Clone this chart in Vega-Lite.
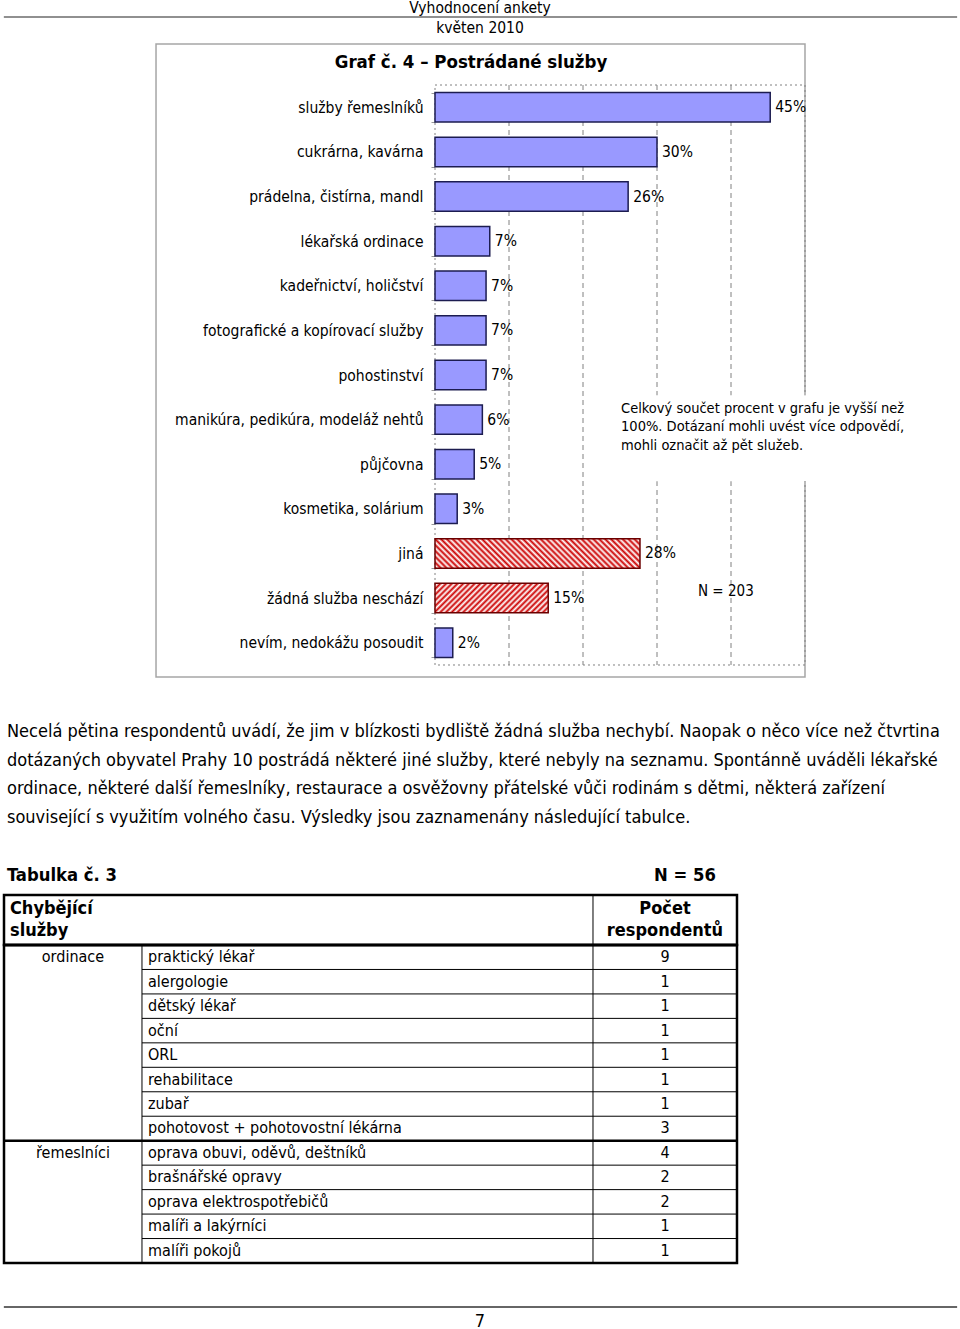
{
"$schema": "https://vega.github.io/schema/vega-lite/v6.json",
"background": "white",
"padding": 0,
"spacing": 0,
"bounds": "flush",
"config": {"view": {"stroke": null}, "font": "DejaVu Sans Condensed", "text": {"color": "#000"}},
"vconcat": [
{
 "width": 960, "height": 44,
 "layer": [
  {"data": {"values": [{"t": "Vyhodnocení ankety"}]},
   "mark": {"type": "text", "align": "center", "baseline": "middle", "fontSize": 15.5},
   "encoding": {"x": {"datum": 0.5, "type": "quantitative", "scale": {"domain": [0, 1], "nice": false}, "axis": null},
                "y": {"datum": 0.19, "type": "quantitative", "scale": {"domain": [0, 1], "nice": false, "reverse": true}, "axis": null},
                "text": {"field": "t"}}},
  {"data": {"values": [{}]},
   "mark": {"type": "rule", "stroke": "#222", "strokeWidth": 1.2},
   "encoding": {"x": {"datum": 0.004, "type": "quantitative", "scale": {"domain": [0, 1], "nice": false}, "axis": null}, "x2": {"datum": 0.997},
                "y": {"datum": 0.386, "type": "quantitative", "scale": {"domain": [0, 1], "nice": false, "reverse": true}, "axis": null}}},
  {"data": {"values": [{"t": "květen 2010"}]},
   "mark": {"type": "text", "align": "center", "baseline": "middle", "fontSize": 15.5},
   "encoding": {"x": {"datum": 0.5, "type": "quantitative", "scale": {"domain": [0, 1], "nice": false}, "axis": null},
                "y": {"datum": 0.636, "type": "quantitative", "scale": {"domain": [0, 1], "nice": false, "reverse": true}, "axis": null},
                "text": {"field": "t"}}}
 ]
},
{
 "width": 960, "height": 633,
 "title": {"text": "Graf č. 4 – Postrádané služby", "fontSize": 18.5, "fontWeight": "bold", "anchor": "middle", "frame": "group", "offset": -34, "dx": -9, "color": "#000"},
 "resolve": {"scale": {"y": "independent"}},
 "layer": [
  {
   "layer": [
    {"data": {"values": [{}]},
     "mark": {"type": "rect", "fill": "transparent", "stroke": "#a6a6a6", "strokeWidth": 1.5},
     "encoding": {"x": {"datum": -0.377, "type": "quantitative", "scale": {"domain": [-0.58784, 0.70946], "nice": false, "zero": false}, "axis": null}, "x2": {"datum": 0.5}}},
    {"data": {"values": [{"t": 0.1}, {"t": 0.2}, {"t": 0.3}, {"t": 0.4}]},
     "mark": {"type": "rule", "stroke": "#808080", "strokeDash": [5, 4], "strokeWidth": 1},
     "encoding": {"x": {"field": "t", "type": "quantitative", "scale": {"domain": [-0.58784, 0.70946], "nice": false, "zero": false}, "axis": null},
                  "y": {"datum": 0, "type": "quantitative", "scale": {"domain": [-0.0707, 1.0207], "nice": false, "zero": false, "reverse": true}, "axis": null},
                  "y2": {"datum": 1}}},
    {"data": {"values": [{}]},
     "mark": {"type": "rect", "fill": "transparent", "stroke": "#808080", "strokeDash": [2, 3], "strokeWidth": 1},
     "encoding": {"x": {"datum": 0, "type": "quantitative", "scale": {"domain": [-0.58784, 0.70946], "nice": false, "zero": false}, "axis": null}, "x2": {"datum": 0.5},
                  "y": {"datum": 0, "type": "quantitative", "scale": {"domain": [-0.0707, 1.0207], "nice": false, "zero": false, "reverse": true}, "axis": null}, "y2": {"datum": 1}}},
    {"data": {"values": [{}]},
     "mark": {"type": "rect", "fill": "white"},
     "encoding": {"x": {"datum": 0.245, "type": "quantitative", "scale": {"domain": [-0.58784, 0.70946], "nice": false, "zero": false}, "axis": null}, "x2": {"datum": 0.64},
                  "y": {"datum": 0.535, "type": "quantitative", "scale": {"domain": [-0.0707, 1.0207], "nice": false, "zero": false, "reverse": true}, "axis": null}, "y2": {"datum": 0.683}}},
    {"data": {"values": [{"t": "Celkový součet procent v grafu je vyšší než\n100%. Dotázaní mohli uvést více odpovědí,\nmohli označit až pět služeb."}]},
     "mark": {"type": "text", "align": "left", "baseline": "top", "fontSize": 14.5, "lineHeight": 18.5, "lineBreak": "\n"},
     "encoding": {"x": {"datum": 0.2514, "type": "quantitative", "scale": {"domain": [-0.58784, 0.70946], "nice": false, "zero": false}, "axis": null},
                  "y": {"datum": 0.546, "type": "quantitative", "scale": {"domain": [-0.0707, 1.0207], "nice": false, "zero": false, "reverse": true}, "axis": null},
                  "text": {"field": "t"}}},
    {"data": {"values": [{"t": "N = 203"}]},
     "mark": {"type": "text", "align": "left", "baseline": "middle", "fontSize": 15},
     "encoding": {"x": {"datum": 0.3554, "type": "quantitative", "scale": {"domain": [-0.58784, 0.70946], "nice": false, "zero": false}, "axis": null},
                  "y": {"datum": 0.8724, "type": "quantitative", "scale": {"domain": [-0.0707, 1.0207], "nice": false, "zero": false, "reverse": true}, "axis": null},
                  "text": {"field": "t"}}}
   ]
  },
  {
   "data": {"values": [
    {"sluzba": "služby řemeslníků", "podil": 0.453},
    {"sluzba": "cukrárna, kavárna", "podil": 0.300},
    {"sluzba": "prádelna, čistírna, mandl", "podil": 0.261},
    {"sluzba": "lékařská ordinace", "podil": 0.074},
    {"sluzba": "kadeřnictví, holičství", "podil": 0.069},
    {"sluzba": "fotografické a kopírovací služby", "podil": 0.069},
    {"sluzba": "pohostinství", "podil": 0.069},
    {"sluzba": "manikúra, pedikúra, modeláž nehtů", "podil": 0.064},
    {"sluzba": "půjčovna", "podil": 0.053},
    {"sluzba": "kosmetika, solárium", "podil": 0.030},
    {"sluzba": "jiná", "podil": 0.277},
    {"sluzba": "žádná služba neschází", "podil": 0.153},
    {"sluzba": "nevím, nedokážu posoudit", "podil": 0.024}
   ]},
   "encoding": {
    "y": {"field": "sluzba", "type": "nominal", "sort": null, "title": null,
          "scale": {"type": "band", "paddingInner": 0.34, "paddingOuter": 0.764, "align": 0.7127},
          "axis": {"orient": "left", "offset": -435, "domain": false, "ticks": true, "tickBand": "extent", "tickSize": 4, "tickColor": "#999", "labelFontSize": 15.5, "labelColor": "#000", "labelPadding": 8, "labelLimit": 400, "grid": false, "title": null}},
    "x": {"field": "podil", "type": "quantitative", "scale": {"domain": [-0.58784, 0.70946], "nice": false, "zero": false}, "axis": null}
   },
   "layer": [
    {"mark": {"type": "bar", "strokeWidth": 1.5},
     "encoding": {
      "x2": {"datum": 0},
      "fill": {"condition": [
        {"test": "datum.sluzba == 'jiná'", "value": {"gradient": "linear", "x1": 0, "y1": 1, "x2": 1.1205, "y2": 0.839, "stops": [{"offset":0,"color":"#c00"},{"offset":0.0125,"color":"#fff"},{"offset":0.025,"color":"#c00"},{"offset":0.0375,"color":"#fff"},{"offset":0.05,"color":"#c00"},{"offset":0.0625,"color":"#fff"},{"offset":0.075,"color":"#c00"},{"offset":0.0875,"color":"#fff"},{"offset":0.1,"color":"#c00"},{"offset":0.1125,"color":"#fff"},{"offset":0.125,"color":"#c00"},{"offset":0.1375,"color":"#fff"},{"offset":0.15,"color":"#c00"},{"offset":0.1625,"color":"#fff"},{"offset":0.175,"color":"#c00"},{"offset":0.1875,"color":"#fff"},{"offset":0.2,"color":"#c00"},{"offset":0.2125,"color":"#fff"},{"offset":0.225,"color":"#c00"},{"offset":0.2375,"color":"#fff"},{"offset":0.25,"color":"#c00"},{"offset":0.2625,"color":"#fff"},{"offset":0.275,"color":"#c00"},{"offset":0.2875,"color":"#fff"},{"offset":0.3,"color":"#c00"},{"offset":0.3125,"color":"#fff"},{"offset":0.325,"color":"#c00"},{"offset":0.3375,"color":"#fff"},{"offset":0.35,"color":"#c00"},{"offset":0.3625,"color":"#fff"},{"offset":0.375,"color":"#c00"},{"offset":0.3875,"color":"#fff"},{"offset":0.4,"color":"#c00"},{"offset":0.4125,"color":"#fff"},{"offset":0.425,"color":"#c00"},{"offset":0.4375,"color":"#fff"},{"offset":0.45,"color":"#c00"},{"offset":0.4625,"color":"#fff"},{"offset":0.475,"color":"#c00"},{"offset":0.4875,"color":"#fff"},{"offset":0.5,"color":"#c00"},{"offset":0.5125,"color":"#fff"},{"offset":0.525,"color":"#c00"},{"offset":0.5375,"color":"#fff"},{"offset":0.55,"color":"#c00"},{"offset":0.5625,"color":"#fff"},{"offset":0.575,"color":"#c00"},{"offset":0.5875,"color":"#fff"},{"offset":0.6,"color":"#c00"},{"offset":0.6125,"color":"#fff"},{"offset":0.625,"color":"#c00"},{"offset":0.6375,"color":"#fff"},{"offset":0.65,"color":"#c00"},{"offset":0.6625,"color":"#fff"},{"offset":0.675,"color":"#c00"},{"offset":0.6875,"color":"#fff"},{"offset":0.7,"color":"#c00"},{"offset":0.7125,"color":"#fff"},{"offset":0.725,"color":"#c00"},{"offset":0.7375,"color":"#fff"},{"offset":0.75,"color":"#c00"},{"offset":0.7625,"color":"#fff"},{"offset":0.775,"color":"#c00"},{"offset":0.7875,"color":"#fff"},{"offset":0.8,"color":"#c00"},{"offset":0.8125,"color":"#fff"},{"offset":0.825,"color":"#c00"},{"offset":0.8375,"color":"#fff"},{"offset":0.85,"color":"#c00"},{"offset":0.8625,"color":"#fff"},{"offset":0.875,"color":"#c00"},{"offset":0.8875,"color":"#fff"},{"offset":0.9,"color":"#c00"},{"offset":0.9125,"color":"#fff"},{"offset":0.925,"color":"#c00"},{"offset":0.9375,"color":"#fff"},{"offset":0.95,"color":"#c00"},{"offset":0.9625,"color":"#fff"},{"offset":0.975,"color":"#c00"},{"offset":0.9875,"color":"#fff"},{"offset":1,"color":"#c00"}]}},
        {"test": "datum.sluzba == 'žádná služba neschází'", "value": {"gradient": "linear", "x1": 0, "y1": 0, "x2": 1.1803, "y2": 0.3071, "stops": [{"offset":0,"color":"#c00"},{"offset":0.02,"color":"#fff"},{"offset":0.04,"color":"#c00"},{"offset":0.06,"color":"#fff"},{"offset":0.08,"color":"#c00"},{"offset":0.1,"color":"#fff"},{"offset":0.12,"color":"#c00"},{"offset":0.14,"color":"#fff"},{"offset":0.16,"color":"#c00"},{"offset":0.18,"color":"#fff"},{"offset":0.2,"color":"#c00"},{"offset":0.22,"color":"#fff"},{"offset":0.24,"color":"#c00"},{"offset":0.26,"color":"#fff"},{"offset":0.28,"color":"#c00"},{"offset":0.3,"color":"#fff"},{"offset":0.32,"color":"#c00"},{"offset":0.34,"color":"#fff"},{"offset":0.36,"color":"#c00"},{"offset":0.38,"color":"#fff"},{"offset":0.4,"color":"#c00"},{"offset":0.42,"color":"#fff"},{"offset":0.44,"color":"#c00"},{"offset":0.46,"color":"#fff"},{"offset":0.48,"color":"#c00"},{"offset":0.5,"color":"#fff"},{"offset":0.52,"color":"#c00"},{"offset":0.54,"color":"#fff"},{"offset":0.56,"color":"#c00"},{"offset":0.58,"color":"#fff"},{"offset":0.6,"color":"#c00"},{"offset":0.62,"color":"#fff"},{"offset":0.64,"color":"#c00"},{"offset":0.66,"color":"#fff"},{"offset":0.68,"color":"#c00"},{"offset":0.7,"color":"#fff"},{"offset":0.72,"color":"#c00"},{"offset":0.74,"color":"#fff"},{"offset":0.76,"color":"#c00"},{"offset":0.78,"color":"#fff"},{"offset":0.8,"color":"#c00"},{"offset":0.82,"color":"#fff"},{"offset":0.84,"color":"#c00"},{"offset":0.86,"color":"#fff"},{"offset":0.88,"color":"#c00"},{"offset":0.9,"color":"#fff"},{"offset":0.92,"color":"#c00"},{"offset":0.94,"color":"#fff"},{"offset":0.96,"color":"#c00"},{"offset":0.98,"color":"#fff"},{"offset":1,"color":"#c00"}]}}
       ], "value": "#9999ff"},
      "stroke": {"condition": {"test": "datum.sluzba == 'jiná' || datum.sluzba == 'žádná služba neschází'", "value": "#6b0000"}, "value": "#1c1c50"}
     }},
    {"mark": {"type": "text", "align": "left", "baseline": "middle", "dx": 5, "fontSize": 15.5},
     "encoding": {"text": {"field": "podil", "type": "quantitative", "format": ".0%"}}}
   ]
  }
 ]
},
{
 "width": 960, "height": 184,
 "data": {"values": [
  {"radek": 1, "text": "Necelá pětina respondentů uvádí, že jim v blízkosti bydliště žádná služba nechybí. Naopak o něco více než čtvrtina"},
  {"radek": 2, "text": "dotázaných obyvatel Prahy 10 postrádá některé jiné služby, které nebyly na seznamu. Spontánně uváděli lékařské"},
  {"radek": 3, "text": "ordinace, některé další řemeslníky, restaurace a osvěžovny přátelské vůči rodinám s dětmi, některá zařízení"},
  {"radek": 4, "text": "související s využitím volného času. Výsledky jsou zaznamenány následující tabulce."}
 ]},
 "mark": {"type": "text", "align": "left", "baseline": "middle", "fontSize": 18},
 "encoding": {
  "x": {"datum": 0.0073, "type": "quantitative", "scale": {"domain": [0, 1], "nice": false}, "axis": null},
  "y": {"field": "radek", "type": "quantitative", "scale": {"domain": [-0.9184, 5.4996], "nice": false, "zero": false, "reverse": true}, "axis": null},
  "text": {"field": "text"}
 }
},
{
 "width": 960, "height": 34,
 "layer": [
  {"data": {"values": [{"t": "Tabulka č. 3"}]},
   "mark": {"type": "text", "align": "left", "baseline": "middle", "fontSize": 18.3, "fontWeight": "bold"},
   "encoding": {"x": {"datum": 0.0073, "type": "quantitative", "scale": {"domain": [0, 1], "nice": false}, "axis": null},
                "y": {"datum": 0.44, "type": "quantitative", "scale": {"domain": [0, 1], "nice": false, "reverse": true}, "axis": null},
                "text": {"field": "t"}}},
  {"data": {"values": [{"t": "N = 56"}]},
   "mark": {"type": "text", "align": "right", "baseline": "middle", "fontSize": 18.3, "fontWeight": "bold"},
   "encoding": {"x": {"datum": 0.7458, "type": "quantitative", "scale": {"domain": [0, 1], "nice": false}, "axis": null},
                "y": {"datum": 0.44, "type": "quantitative", "scale": {"domain": [0, 1], "nice": false, "reverse": true}, "axis": null},
                "text": {"field": "t"}}}
 ]
},
{
 "width": 960, "height": 50,
 "layer": [
  {"data": {"values": [{}]},
   "mark": {"type": "rect", "fill": "transparent", "stroke": "#000", "strokeWidth": 2.5},
   "encoding": {"x": {"datum": 0.00417, "type": "quantitative", "scale": {"domain": [0, 1], "nice": false}, "axis": null}, "x2": {"datum": 0.7677}}},
  {"data": {"values": [{}]},
   "mark": {"type": "rule", "stroke": "#000", "strokeWidth": 1},
   "encoding": {"x": {"datum": 0.6177, "type": "quantitative", "scale": {"domain": [0, 1], "nice": false}, "axis": null}}},
  {"data": {"values": [{"t": "Chybějící\nslužby"}]},
   "mark": {"type": "text", "align": "left", "baseline": "middle", "fontSize": 18, "fontWeight": "bold", "lineBreak": "\n", "lineHeight": 22},
   "encoding": {"x": {"datum": 0.0104, "type": "quantitative", "scale": {"domain": [0, 1], "nice": false}, "axis": null},
                "y": {"datum": 0.27, "type": "quantitative", "scale": {"domain": [0, 1], "nice": false, "reverse": true}, "axis": null},
                "text": {"field": "t"}}},
  {"data": {"values": [{"t": "Počet\nrespondentů"}]},
   "mark": {"type": "text", "align": "center", "baseline": "middle", "fontSize": 18, "fontWeight": "bold", "lineBreak": "\n", "lineHeight": 22},
   "encoding": {"x": {"datum": 0.6927, "type": "quantitative", "scale": {"domain": [0, 1], "nice": false}, "axis": null},
                "y": {"datum": 0.27, "type": "quantitative", "scale": {"domain": [0, 1], "nice": false, "reverse": true}, "axis": null},
                "text": {"field": "t"}}}
 ]
},
{
 "width": 960, "height": 318,
 "data": {"values": [
  {"skupina": "ordinace", "sluzba": "praktický lékař", "pocet": 9},
  {"skupina": "ordinace", "sluzba": "alergologie", "pocet": 1},
  {"skupina": "ordinace", "sluzba": "dětský lékař", "pocet": 1},
  {"skupina": "ordinace", "sluzba": "oční", "pocet": 1},
  {"skupina": "ordinace", "sluzba": "ORL", "pocet": 1},
  {"skupina": "ordinace", "sluzba": "rehabilitace", "pocet": 1},
  {"skupina": "ordinace", "sluzba": "zubař", "pocet": 1},
  {"skupina": "ordinace", "sluzba": "pohotovost + pohotovostní lékárna", "pocet": 3},
  {"skupina": "řemeslníci", "sluzba": "oprava obuvi, oděvů, deštníků", "pocet": 4},
  {"skupina": "řemeslníci", "sluzba": "brašnářské opravy", "pocet": 2},
  {"skupina": "řemeslníci", "sluzba": "oprava elektrospotřebičů", "pocet": 2},
  {"skupina": "řemeslníci", "sluzba": "malíři a lakýrníci", "pocet": 1},
  {"skupina": "řemeslníci", "sluzba": "malíři pokojů", "pocet": 1}
 ]},
 "transform": [{"window": [{"op": "row_number", "as": "rn"}], "groupby": ["skupina"]}],
 "layer": [
  {"data": {"values": [{}]},
   "mark": {"type": "rect", "fill": "transparent", "stroke": "#000", "strokeWidth": 2.5},
   "encoding": {"x": {"datum": 0.00417, "type": "quantitative", "scale": {"domain": [0, 1], "nice": false}, "axis": null}, "x2": {"datum": 0.7677}}},
  {"data": {"values": [{}]},
   "mark": {"type": "rule", "stroke": "#000", "strokeWidth": 1},
   "encoding": {"x": {"datum": 0.1479, "type": "quantitative", "scale": {"domain": [0, 1], "nice": false}, "axis": null}}},
  {"data": {"values": [{}]},
   "mark": {"type": "rule", "stroke": "#000", "strokeWidth": 1},
   "encoding": {"x": {"datum": 0.6177, "type": "quantitative", "scale": {"domain": [0, 1], "nice": false}, "axis": null}}},
  {"mark": {"type": "rule", "stroke": "#000", "strokeWidth": 1},
   "encoding": {"y": {"field": "sluzba", "type": "nominal", "sort": null, "bandPosition": 0, "scale": {"type": "band", "paddingInner": 0, "paddingOuter": 0}, "axis": null},
                "x": {"datum": 0.1479, "type": "quantitative", "scale": {"domain": [0, 1], "nice": false}, "axis": null}, "x2": {"datum": 0.7677},
                "strokeOpacity": {"condition": {"test": "datum.rn == 1", "value": 0}, "value": 1}}},
  {"mark": {"type": "rule", "stroke": "#000", "strokeWidth": 2.5},
   "encoding": {"y": {"field": "sluzba", "type": "nominal", "sort": null, "bandPosition": 0, "scale": {"type": "band", "paddingInner": 0, "paddingOuter": 0}, "axis": null},
                "x": {"datum": 0.00417, "type": "quantitative", "scale": {"domain": [0, 1], "nice": false}, "axis": null}, "x2": {"datum": 0.7677},
                "strokeOpacity": {"condition": {"test": "datum.rn == 1", "value": 1}, "value": 0}}},
  {"mark": {"type": "text", "align": "center", "baseline": "middle", "fontSize": 16},
   "encoding": {"y": {"field": "sluzba", "type": "nominal", "sort": null, "scale": {"type": "band", "paddingInner": 0, "paddingOuter": 0}, "axis": null},
                "x": {"datum": 0.076, "type": "quantitative", "scale": {"domain": [0, 1], "nice": false}, "axis": null},
                "text": {"condition": {"test": "datum.rn == 1", "field": "skupina"}, "value": ""}}},
  {"mark": {"type": "text", "align": "left", "baseline": "middle", "fontSize": 16},
   "encoding": {"y": {"field": "sluzba", "type": "nominal", "sort": null, "scale": {"type": "band", "paddingInner": 0, "paddingOuter": 0}, "axis": null},
                "x": {"datum": 0.1542, "type": "quantitative", "scale": {"domain": [0, 1], "nice": false}, "axis": null},
                "text": {"field": "sluzba"}}},
  {"mark": {"type": "text", "align": "center", "baseline": "middle", "fontSize": 16},
   "encoding": {"y": {"field": "sluzba", "type": "nominal", "sort": null, "scale": {"type": "band", "paddingInner": 0, "paddingOuter": 0}, "axis": null},
                "x": {"datum": 0.6927, "type": "quantitative", "scale": {"domain": [0, 1], "nice": false}, "axis": null},
                "text": {"field": "pocet", "type": "quantitative"}}}
 ]
},
{
 "width": 960, "height": 66,
 "layer": [
  {"data": {"values": [{}]},
   "mark": {"type": "rule", "stroke": "#333", "strokeWidth": 1.5},
   "encoding": {"x": {"datum": 0.004, "type": "quantitative", "scale": {"domain": [0, 1], "nice": false}, "axis": null}, "x2": {"datum": 0.997},
                "y": {"datum": 0.667, "type": "quantitative", "scale": {"domain": [0, 1], "nice": false, "reverse": true}, "axis": null}}},
  {"data": {"values": [{"t": "7"}]},
   "mark": {"type": "text", "align": "center", "baseline": "middle", "fontSize": 18},
   "encoding": {"x": {"datum": 0.5, "type": "quantitative", "scale": {"domain": [0, 1], "nice": false}, "axis": null},
                "y": {"datum": 0.89, "type": "quantitative", "scale": {"domain": [0, 1], "nice": false, "reverse": true}, "axis": null},
                "text": {"field": "t"}}}
 ]
}
]
}
